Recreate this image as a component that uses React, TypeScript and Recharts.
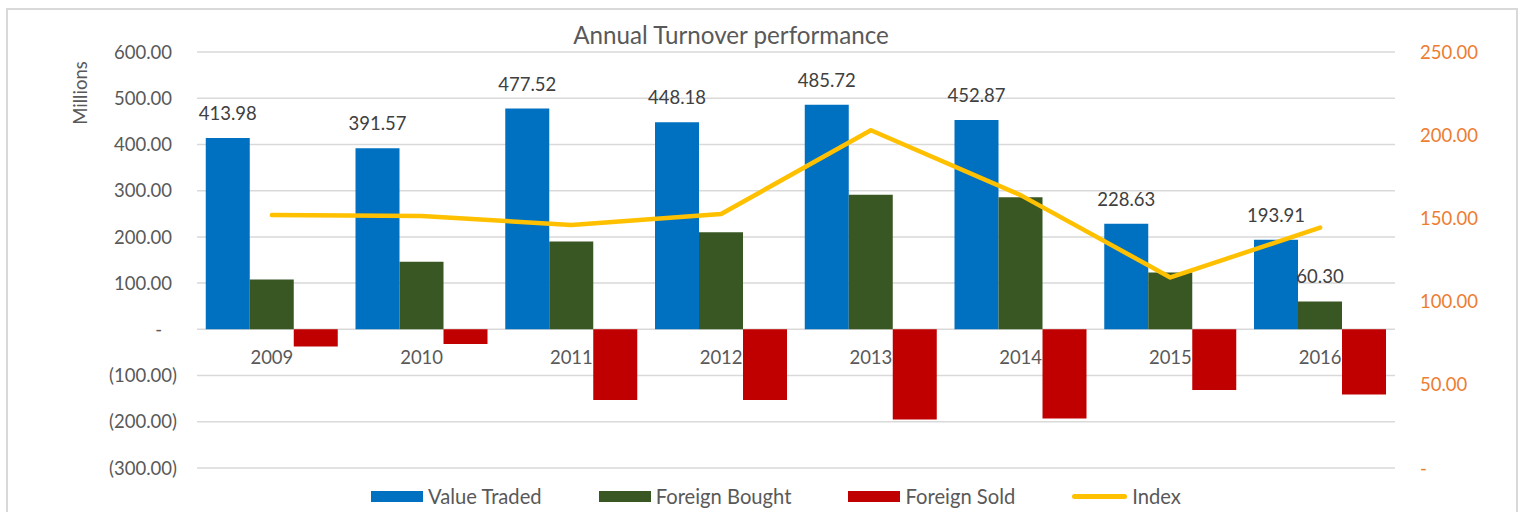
import { Bar, CartesianGrid, ComposedChart, LabelList, Line, XAxis, YAxis } from "recharts";

const years = ["2009", "2010", "2011", "2012", "2013", "2014", "2015", "2016"];
const valueTraded = [413.98, 391.57, 477.52, 448.18, 485.72, 452.87, 228.63, 193.91];
const foreignBought = [108, 146, 190, 210, 291, 286, 123, 60.3];
const foreignSold = [-37, -32, -153, -153, -195, -193, -131, -141];
const indexLevel = [152, 151.5, 146, 152.6, 203, 164, 114.5, 144.5];
const boughtLabelYears = ["2016"];
const leftTicks = [-300, -200, -100, 0, 100, 200, 300, 400, 500, 600];
const rightTicks = [0, 50, 100, 150, 200, 250];

const data = years.map((year, i) => ({
  year,
  valueTraded: valueTraded[i],
  foreignBought: foreignBought[i],
  foreignSold: foreignSold[i],
  index: indexLevel[i],
  boughtLabel: boughtLabelYears.includes(year) ? foreignBought[i] : undefined
}));

const FONT = "Lato, 'Liberation Sans', sans-serif";
const W = 1520;
const H = 512;
const margin = { top: 52, right: 45, bottom: 14, left: 117 };
const X_AXIS_H = 30;
const plotTop = margin.top;
const plotH = H - margin.top - margin.bottom - X_AXIS_H;
const leftMin = leftTicks[0];
const leftMax = leftTicks[leftTicks.length - 1];
const zeroY = plotTop + (plotH * leftMax) / (leftMax - leftMin);

const fmt = (v: number) => v.toFixed(2);

function LeftTick(props: any) {
  const { x, y, payload } = props;
  const v = payload.value as number;
  let text = fmt(v);
  let dx = 0;
  if (v === 0) {
    text = "-";
    dx = -10;
  } else if (v < 0) {
    text = `(${fmt(-v)})`;
    dx = 5;
  }
  return (
    <text x={x + dx} y={y} dy="0.36em" textAnchor="end" fill="#595959" fontSize={18.5} fontFamily={FONT}>
      {text}
    </text>
  );
}

function RightTick(props: any) {
  const { x, y, payload } = props;
  const v = payload.value as number;
  return (
    <text x={x} y={y} dy="0.36em" textAnchor="start" fill="#ED7D31" fontSize={18.5} fontFamily={FONT}>
      {v === 0 ? "-" : fmt(v)}
    </text>
  );
}

function YearTick(props: any) {
  const { x, payload } = props;
  return (
    <text x={x} y={zeroY + 28} dy="0.36em" textAnchor="middle" fill="#595959" fontSize={18.5} fontFamily={FONT}>
      {payload.value}
    </text>
  );
}

const legendItems = [
  { name: "Value Traded", color: "#0070C0", kind: "rect" },
  { name: "Foreign Bought", color: "#385723", kind: "rect" },
  { name: "Foreign Sold", color: "#C00000", kind: "rect" },
  { name: "Index", color: "#FFC000", kind: "line" }
];

export default function App() {
  return (
    <div style={{ position: "fixed", left: 0, top: 0, width: W, height: H, overflow: "hidden", background: "#fff" }}>
      <div
        style={{
          position: "absolute",
          left: 6,
          top: 8,
          width: 1512,
          height: 600,
          border: "2px solid #d9d9d9",
          boxSizing: "border-box"
        }}
      />
      <div
        style={{
          position: "absolute",
          left: 0,
          width: 1462,
          top: 20,
          textAlign: "center",
          fontFamily: FONT,
          fontSize: 24.2,
          color: "#595959",
          lineHeight: "30px"
        }}
      >
        Annual Turnover performance
      </div>
      <div
        style={{
          position: "absolute",
          left: 80,
          top: 93,
          transform: "translate(-50%, -50%) rotate(-90deg)",
          fontFamily: FONT,
          fontSize: 18.5,
          color: "#595959",
          whiteSpace: "nowrap"
        }}
      >
        Millions
      </div>
      <div style={{ position: "absolute", left: 0, top: 0 }}>
        <ComposedChart width={W} height={H} data={data} margin={margin} barCategoryGap="5.85%" barGap={0}>
          <CartesianGrid yAxisId="left" vertical={false} stroke="#d9d9d9" strokeWidth={1.5} />
          <XAxis dataKey="year" height={X_AXIS_H} axisLine={false} tickLine={false} tick={<YearTick />} interval={0} />
          <YAxis
            yAxisId="left"
            width={80}
            domain={[leftMin, leftMax]}
            ticks={leftTicks}
            interval={0}
            axisLine={false}
            tickLine={false}
            tickSize={0}
            tickMargin={25}
            tick={<LeftTick />}
          />
          <YAxis
            yAxisId="right"
            orientation="right"
            width={80}
            domain={[0, 250]}
            ticks={rightTicks}
            interval={0}
            axisLine={false}
            tickLine={false}
            tickSize={0}
            tickMargin={25}
            tick={<RightTick />}
          />
          <Bar yAxisId="left" dataKey="valueTraded" fill="#0070C0" isAnimationActive={false}>
            <LabelList
              dataKey="valueTraded"
              position="top"
              offset={18}
              formatter={(v: any) => fmt(Number(v))}
              fill="#404040"
              fontSize={18.5}
              fontFamily={FONT}
            />
          </Bar>
          <Bar yAxisId="left" dataKey="foreignBought" fill="#385723" isAnimationActive={false}>
            <LabelList
              dataKey="boughtLabel"
              position="top"
              offset={18}
              formatter={(v: any) => (v == null ? "" : fmt(Number(v)))}
              fill="#404040"
              fontSize={18.5}
              fontFamily={FONT}
            />
          </Bar>
          <Bar yAxisId="left" dataKey="foreignSold" fill="#C00000" isAnimationActive={false} />
          <Line
            yAxisId="right"
            type="linear"
            dataKey="index"
            stroke="#FFC000"
            strokeWidth={4.5}
            strokeLinecap="round"
            strokeLinejoin="round"
            dot={false}
            activeDot={false}
            isAnimationActive={false}
          />
        </ComposedChart>
      </div>
      <div
        style={{
          position: "absolute",
          left: 371,
          top: 484,
          display: "flex",
          alignItems: "center",
          gap: 57,
          fontFamily: FONT,
          fontSize: 20.2,
          color: "#595959",
          lineHeight: "24px"
        }}
      >
        {legendItems.map((item) => (
          <div key={item.name} style={{ display: "flex", alignItems: "center", gap: 5 }}>
            {item.kind === "rect" ? (
              <div style={{ width: 52, height: 11, background: item.color }} />
            ) : (
              <div style={{ width: 55, height: 5, borderRadius: 3, background: item.color }} />
            )}
            <span>{item.name}</span>
          </div>
        ))}
      </div>
    </div>
  );
}
